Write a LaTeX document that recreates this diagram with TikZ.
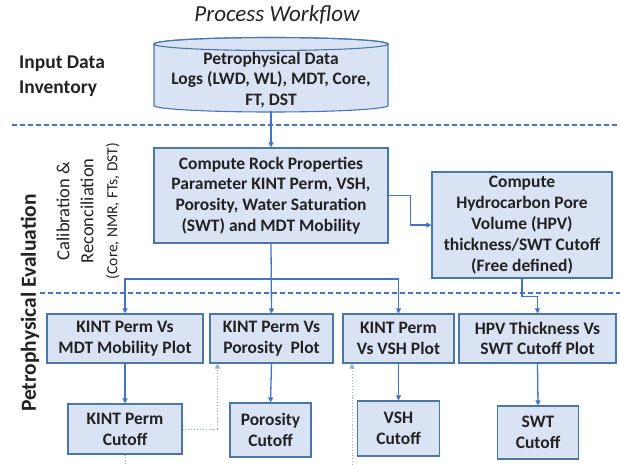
\documentclass[tikz,border=0pt]{standalone}
\usepackage{fontspec}
\setmainfont{Carlito}
\usetikzlibrary{arrows.meta}
\definecolor{boxfill}{HTML}{DAE3F3}
\definecolor{boxline}{HTML}{4A76A8}
\definecolor{flowblue}{HTML}{4472C4}
\definecolor{feedblue}{HTML}{8FAADC}
\definecolor{ink}{HTML}{222222}
\tikzset{
  stage/.style = {draw=boxline, fill=boxfill, line width=1.1pt, text=ink, align=center, inner sep=0pt,
                  font=\bfseries\fontsize{17.5}{20.8}\selectfont},
  flow/.style  = {draw=flowblue, line width=1.3pt, ->},
  feed/.style  = {draw=feedblue, line width=0.9pt, dotted, ->},
  phase/.style = {draw=flowblue, line width=1.1pt, dash pattern=on 5pt off 3pt},
  >={Triangle[length=5pt,width=5pt]}
}

\begin{document}
\begin{tikzpicture}[x=1pt, y=-1pt]
        \useasboundingbox (0,0) rectangle (620,465);
        % phase separators
        \draw[phase] (12,125) -- (620,125);
        \draw[phase] (40,293) -- (620,293);
        % headings
        \node[font=\itshape\fontsize{23}{26}\selectfont, text=ink] (title) at (277,15) {Process Workflow};
        \node[font=\bfseries\fontsize{19.5}{25}\selectfont, text=ink, align=left] (inventory) at (62,76) {Input Data\\Inventory};
        \node[font=\bfseries\fontsize{21.5}{24}\selectfont, text=ink, rotate=90] (evaluation) at (30,303) {Petrophysical Evaluation};
        \node[font=\fontsize{18.5}{24}\selectfont, text=ink, align=center, rotate=90] (calibration) at (88,211)
          {Calibration \&\\Reconciliation\\{\fontsize{15.5}{18}\selectfont (Core, NMR, FTs, DST)}};
        % input data store
        \filldraw[draw=boxline, fill=boxfill, line width=1.1pt]
          (154,44) -- (154,105.5) arc[start angle=180, end angle=0, x radius=117, y radius=6.5]
          -- (388,44) arc[start angle=0, end angle=-180, x radius=117, y radius=6.5] -- cycle;
        \draw[boxline, line width=1.1pt] (271,44) ellipse[x radius=117, y radius=6.5];
        \node[stage, draw=none, fill=none, minimum width=234, minimum height=60] (data) at (271,80)
          {Petrophysical Data\\Logs (LWD, WL), MDT, Core,\\FT, DST};
        % computations
        \node[stage, minimum width=234, minimum height=95] (rock) at (271,195.5)
          {Compute Rock Properties\\Parameter KINT Perm, VSH,\\Porosity, Water Saturation\\(SWT) and MDT Mobility};
        \node[stage, minimum width=180, minimum height=106] (hpv) at (522,225)
          {Compute\\Hydrocarbon Pore\\Volume (HPV)\\thickness/SWT Cutoff\\(Free defined)};
        % plots
        \node[stage, minimum width=156, minimum height=49] (mdtplot) at (125,338.5) {KINT Perm Vs\\MDT Mobility Plot};
        \node[stage, minimum width=123, minimum height=49] (poroplot) at (271.5,338.5) {KINT Perm Vs\\Porosity~ Plot};
        \node[stage, minimum width=111, minimum height=49] (vshplot) at (398.5,338.5) {KINT Perm\\Vs VSH Plot};
        \node[stage, minimum width=157, minimum height=49] (hpvplot) at (537.5,338.5) {HPV Thickness Vs\\SWT Cutoff Plot};
        % cutoffs
        \node[stage, minimum width=114, minimum height=50] (kintcut) at (125,429) {KINT Perm\\Cutoff};
        \node[stage, minimum width=81, minimum height=54] (porocut) at (270.5,430) {Porosity\\Cutoff};
        \node[stage, minimum width=82, minimum height=55] (vshcut) at (398.5,428.5) {VSH\\Cutoff};
        \node[stage, minimum width=81, minimum height=53] (swtcut) at (538,432.5) {SWT\\Cutoff};
        % main flow
        \coordinate (split) at (271,279);
        \coordinate (kintend) at (125,465);
        \coordinate (vshfeed) at (352,465);
        \draw[flow] (data.south) -- (rock.north);
        \draw[flow] (rock.east) -- ++(22,0) |- (hpv.west);
        \draw[flow] (rock.south) -- (poroplot.north);
        \draw[flow] (split) -| (mdtplot.north);
        \draw[flow] (split) -| (vshplot.north);
        \draw[flow] (hpv.south) -- ++(0,18) -| (hpvplot.north);
        \draw[flow] (mdtplot.south) -- (kintcut.north);
        \draw[flow] (poroplot.south) -- (porocut.north);
        \draw[flow] (vshplot.south) -- (vshcut.north);
        \draw[flow] (hpvplot.south) -- (swtcut.north);
        % cutoff feedback
        \draw[feed] (kintcut.east) -| ([xshift=8pt]poroplot.south west);
        \draw[feed, -] (kintcut.south) -- (kintend);
        \draw[feed] (vshfeed) -- (vshfeed |- vshplot.south);
\end{tikzpicture}
\end{document}
